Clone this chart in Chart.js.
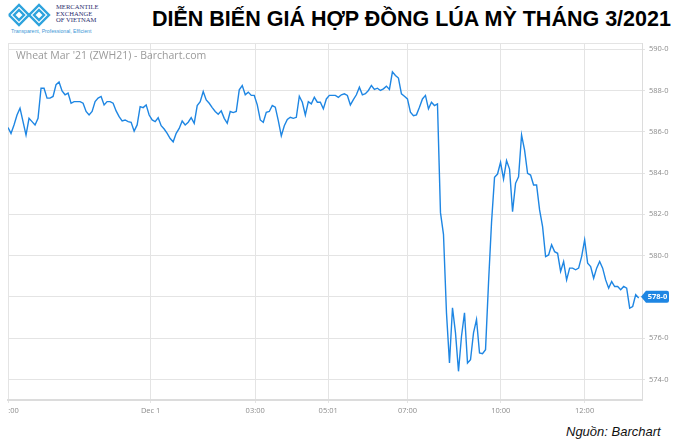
<!DOCTYPE html>
<html>
<head>
<meta charset="utf-8">
<script src="https://cdn.jsdelivr.net/npm/chart.js@4.4.0/dist/chart.umd.min.js"></script>
<style>
  html, body { margin: 0; padding: 0; background: #fff; }
  #page { position: relative; width: 679px; height: 442px; overflow: hidden; font-family: 'Liberation Sans', Arial, sans-serif; }
  #chart-box { position: absolute; left: 0; top: 0; width: 679px; height: 442px; }
  #title { position: absolute; left: 152px; top: 9px; font-size: 21.5px; line-height: 21.5px; font-weight: bold; color: #000; white-space: nowrap; }
  #source { position: absolute; left: 566px; top: 425px; font-size: 13px; line-height: 13px; font-style: italic; color: #111; white-space: nowrap; }
  #logo-icon { position: absolute; left: 7px; top: 2px; }
  .logo-txt { position: absolute; left: 56px; font-family: 'Liberation Serif', 'DejaVu Serif', serif; font-size: 6.6px; line-height: 7px; color: #2b2d6e; white-space: nowrap; }
  #tagline { position: absolute; left: 11px; top: 28px; font-size: 5.2px; line-height: 6px; color: #3b97d6; white-space: nowrap; }
</style>
</head>
<body>
<div id="page">
  <svg id="logo-icon" width="46" height="26" viewBox="0 0 46 26">
    <g fill="none" stroke="#2ea3dd" stroke-width="2.4" stroke-linejoin="miter">
      <polyline points="2,13 12,3 22,13 32,3 42,13 32,23 22,13 12,23 2,13"/>
      <polygon points="7,13 12,8 17,13 12,18"/>
      <polygon points="27,13 32,8 37,13 32,18"/>
    </g>
  </svg>
  <div class="logo-txt" style="top:3px">MERCANTILE</div>
  <div class="logo-txt" style="top:9.5px">EXCHANGE</div>
  <div class="logo-txt" style="top:16px">OF VIETNAM</div>
  <div id="tagline">Transparent, Professional, Efficient</div>
  <div id="title">DIỄN BIẾN GIÁ HỢP ĐỒNG LÚA MỲ THÁNG 3/2021</div>
  <div id="source">Nguồn: Barchart</div>
  <div id="chart-box"><canvas id="wheatChart"></canvas></div>
</div>
<script>
// price ticks on the right axis
const priceTicks = [574, 576, 578, 580, 582, 584, 586, 588, 590];
// time axis: bar positions of the labels and their text
const timeTickPos = [0, 47.5, 82.3, 106.6, 133, 164.1, 192];
const timeTickLabels = ['\u2002\u2002\u2002:00', 'Dec 1', '03:00', '05:01', '07:00', '10:00', '12:00'];
const symbolText = "Wheat Mar '21 (ZWH21) - Barchart.com";
const lastPrice = 578.0;

// intraday closes
const prices = [
    586.20, 585.92, 586.33, 586.81, 587.14, 586.49, 585.84, 586.65, 586.49, 586.33,
    586.65, 588.11, 588.11, 587.63, 587.63, 587.71, 588.28, 588.41, 587.98, 587.79,
    587.87, 587.38, 587.46, 587.46, 587.46, 587.38, 586.98, 586.81, 586.98, 587.46,
    587.63, 587.71, 587.30, 587.46, 587.46, 587.38, 587.01, 586.73, 586.52, 586.57,
    586.49, 586.46, 586.03,
    586.33, 587.22, 587.17, 587.30, 586.81, 586.57, 586.49, 586.68, 586.29, 586.13,
    585.92, 585.67, 585.51, 585.92, 586.16, 586.52, 586.33, 586.46, 586.68, 586.41,
    587.27, 587.46, 587.95, 587.54, 587.38, 587.17, 586.98, 586.85, 587.01, 586.65,
    586.41, 586.98, 586.93, 586.98, 588.03, 588.24, 587.79, 587.92, 587.76, 587.76,
    587.30, 586.57,
    586.46, 586.94, 586.98, 587.27, 587.19, 586.54, 585.80, 586.29, 586.59, 586.70,
    586.65, 586.70, 587.72, 587.43, 586.81, 587.46, 587.35, 587.67, 587.43, 587.43,
    587.11, 587.59, 587.76, 587.76, 587.76, 587.67, 587.79, 587.84, 587.76, 587.30,
    587.56, 587.79, 588.16, 587.79, 587.84, 588.00, 588.24, 588.05, 588.11, 588.00,
    588.08,
    588.21, 588.05, 588.90, 588.73, 588.60, 587.84, 587.72, 587.59, 586.95, 586.78,
    586.82, 587.19, 587.59, 587.76, 587.11, 587.43, 587.27, 587.35, 582.08, 581.03,
    577.22, 574.79, 577.47, 576.25, 574.39, 576.09, 577.22, 574.79, 574.95, 576.25,
    576.90, 575.28, 575.24, 575.44, 578.68, 581.60, 583.79, 583.95, 584.52, 583.71,
    584.60, 584.19,
    582.13, 583.50, 583.82, 585.84, 585.11, 583.98, 583.90, 583.42, 583.42, 582.21,
    581.40, 579.95, 580.03, 580.52, 580.19, 580.11, 579.23, 579.71, 578.82, 579.39,
    579.39, 579.31, 579.39, 579.95, 580.76, 579.63, 579.47, 578.90, 579.39, 579.71,
    579.39, 578.82, 578.42, 578.74, 578.50, 578.50, 578.34, 578.50, 578.42, 577.45,
    577.53, 578.10, 577.94
];

const lineBlue = '#1e86e3';
const gridGray = '#e4e4e4';
const labelGray = '#8c8c8c';

// top frame line, watermark text and last price tag
const chartDecor = {
    id: 'chartDecor',
    beforeDatasetsDraw(chart) {
        const { ctx, chartArea } = chart;
        ctx.save();
        ctx.strokeStyle = gridGray;
        ctx.lineWidth = 1;
        ctx.beginPath();
        ctx.moveTo(chartArea.left, chartArea.top + 0.5);
        ctx.lineTo(chartArea.right, chartArea.top + 0.5);
        ctx.stroke();
        ctx.fillStyle = '#9a9a9a';
        ctx.font = "10.5px 'Open Sans'";
        ctx.textBaseline = 'middle';
        ctx.fillText(symbolText, chartArea.left + 8, chartArea.top + 13);
        ctx.restore();
    },
    afterDraw(chart) {
        const { ctx, chartArea } = chart;
        const y = chart.scales.y.getPixelForValue(lastPrice);
        const x = chartArea.right - 1;
        ctx.save();
        ctx.fillStyle = lineBlue;
        ctx.beginPath();
        ctx.moveTo(x, y);
        ctx.lineTo(x + 5, y - 6);
        ctx.lineTo(x + 26, y - 6);
        ctx.quadraticCurveTo(x + 28, y - 6, x + 28, y - 4);
        ctx.lineTo(x + 28, y + 4);
        ctx.quadraticCurveTo(x + 28, y + 6, x + 26, y + 6);
        ctx.lineTo(x + 5, y + 6);
        ctx.closePath();
        ctx.fill();
        ctx.fillStyle = '#fff';
        ctx.font = "bold 7.5px 'Open Sans'";
        ctx.textAlign = 'center';
        ctx.textBaseline = 'middle';
        ctx.fillText(lastPrice.toFixed(0) + '-0', x + 16.5, y + 0.5);
        ctx.restore();
    }
};

const ctx = document.getElementById('wheatChart').getContext('2d');
const chart = new Chart(ctx, {
    type: 'line',
    data: {
        datasets: [{
            data: prices.map((p, i) => ({ x: i, y: p })),
            borderColor: lineBlue,
            borderWidth: 1.4,
            pointRadius: 0,
            tension: 0,
            fill: false
        }]
    },
    options: {
        responsive: true,
        maintainAspectRatio: false,
        animation: false,
        layout: { padding: { left: 8, top: 43, right: 0, bottom: 0 } },
        plugins: {
            legend: { display: false },
            tooltip: { enabled: false }
        },
        scales: {
            x: {
                type: 'linear',
                min: 0,
                max: 211.1,
                afterBuildTicks: (scale) => { scale.ticks = timeTickPos.map(v => ({ value: v })); },
                afterFit: (scale) => { scale.height = 42; scale.paddingLeft = 0; scale.paddingRight = 0; },
                grid: { color: gridGray, lineWidth: 1, tickLength: 3 },
                border: { display: true, color: '#dcdcdc', width: 2 },
                ticks: {
                    autoSkip: false,
                    maxRotation: 0,
                    minRotation: 0,
                    padding: 3,
                    color: labelGray,
                    font: { family: "'Open Sans'", size: 7.5 },
                    callback: (v, i) => timeTickLabels[i]
                }
            },
            y: {
                type: 'linear',
                position: 'right',
                min: 573,
                max: 590.3,
                afterBuildTicks: (scale) => { scale.ticks = priceTicks.map(v => ({ value: v })); },
                afterFit: (scale) => { scale.width = 37; },
                grid: { color: gridGray, lineWidth: 1, tickLength: 3 },
                border: { display: true, color: '#dcdcdc', width: 1 },
                ticks: {
                    padding: 4,
                    color: labelGray,
                    font: { family: "'Open Sans'", size: 7.5 },
                    callback: (v) => v + '-0'
                }
            }
        }
    },
    plugins: [chartDecor]
});
</script>
</body>
</html>
